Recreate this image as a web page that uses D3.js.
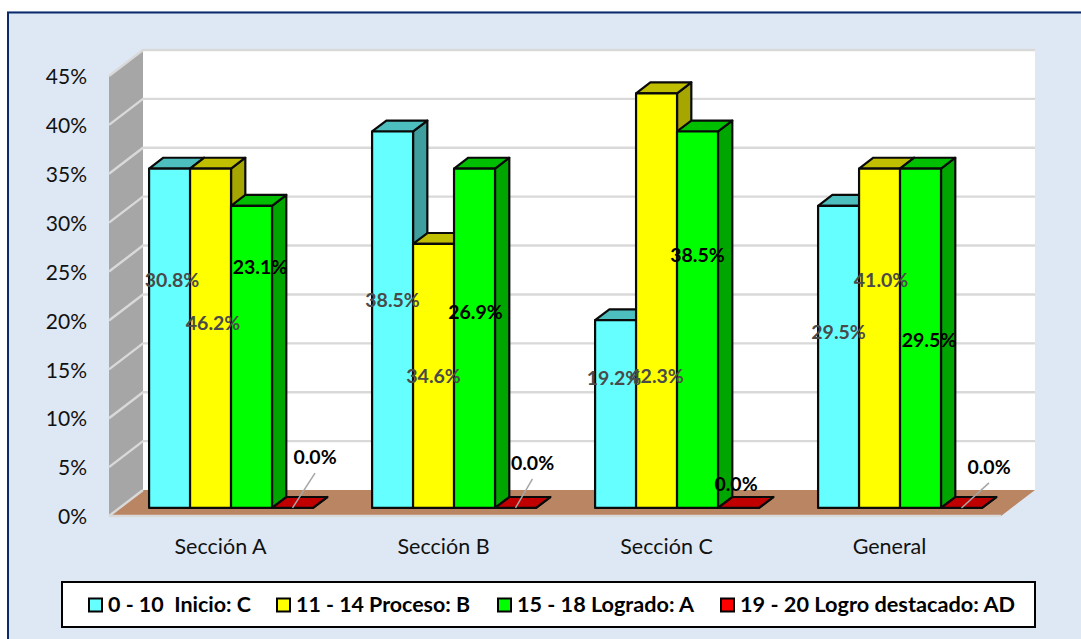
<!DOCTYPE html>
<html>
<head>
<meta charset="utf-8">
<script src="https://cdn.jsdelivr.net/npm/d3@7"></script>
<style>
  html, body { margin: 0; padding: 0; background: #fff; }
  svg { display: block; }
  text { font-family: Lato, "Open Sans", sans-serif; white-space: pre; }
</style>
</head>
<body>
<div id="chart"></div>
<script>
// chart values
var categories = ['Sección A', 'Sección B', 'Sección C', 'General'];
var seriesNames = ['0 - 10  Inicio: C', '11 - 14 Proceso: B', '15 - 18 Logrado: A', '19 - 20 Logro destacado: AD'];
var yTicks = [0, 5, 10, 15, 20, 25, 30, 35, 40, 45];

// bar heights do not match the printed labels in the original, so both are kept
var inicio = [34.7, 38.5, 19.2, 30.9];
var proceso = [34.7, 27.0, 42.4, 34.7];
var logrado = [30.9, 34.7, 38.5, 34.7];
var destacado = [0, 0, 0, 0];

var inicioLabels = ['30.8%', '38.5%', '19.2%', '29.5%'];
var procesoLabels = ['46.2%', '34.6%', '42.3%', '41.0%'];
var logradoLabels = ['23.1%', '26.9%', '38.5%', '29.5%'];
var destacadoLabels = ['0.0%', '0.0%', '0.0%', '0.0%'];

// where the hand-placed labels sit: height in axis units, sideways shift from the bar centre
var labelLevels = [[23.3, 21.2, 13.3, 18.0], [18.9, 13.5, 13.5, 23.3], [24.6, 20.0, 25.9, 17.2], [5.2, 4.6, 2.45, 4.2]];
var labelShifts = [[2.5, 0, -1.5, 0], [2.5, 0, 0, 1.5], [8.5, 1, 0, 8.5], [22.5, 17, -2.5, 27.5]];

var seriesValues = [inicio, proceso, logrado, destacado];
var seriesLabels = [inicioLabels, procesoLabels, logradoLabels, destacadoLabels];

var faceColors = ['#66FFFF', '#FFFF00', '#00FF00', '#FF0000'];
var topColors = ['#4DBFBF', '#BFBF00', '#00BF00', '#C00000'];
var sideColors = ['#3F9F9F', '#A6A600', '#00A600', '#A00000'];
var labelColors = ['#4a4a4a', '#4a4a4a', '#000', '#000'];

var W = 1081, H = 639;
var svg = d3.select('#chart').append('svg').attr('width', W).attr('height', H);

// panel: only top and left edges of the frame are in the crop
svg.append('rect').attr('x', 7).attr('y', 11).attr('width', W - 7).attr('height', H - 11).attr('fill', '#DEE8F4');
svg.append('path').attr('d', 'M8,' + H + 'V12.5H' + W).attr('fill', 'none').attr('stroke', '#0B2A6B').attr('stroke-width', 2);

// 3d frame
var depthX = 34, depthY = 26;
var x0 = 109, x1 = 1001;
var y = d3.scaleLinear().domain([0, 45]).range([516, 76]);
var band = d3.scaleBand().domain(categories).range([x0, x1]).paddingInner(0.265).paddingOuter(0.1325);
var inner = d3.scaleBand().domain(d3.range(seriesValues.length)).range([0, band.bandwidth()]);

function poly(pts) { return 'M' + pts.map(function (p) { return p.join(','); }).join('L') + 'Z'; }

// back wall
svg.append('rect').attr('x', x0 + depthX).attr('y', y(45) - depthY)
  .attr('width', x1 - x0).attr('height', y(0) - y(45)).attr('fill', '#fff');
// left wall
svg.append('path').attr('fill', '#A6A6A6')
  .attr('d', poly([[x0, y(0)], [x0 + depthX, y(0) - depthY], [x0 + depthX, y(45) - depthY], [x0, y(45)]]));
// floor
svg.append('path').attr('fill', '#B98563')
  .attr('d', poly([[x0, y(0)], [x0 + depthX, y(0) - depthY], [x1 + depthX, y(0) - depthY], [x1, y(0)]]));

var grid = svg.append('g').attr('fill', 'none').attr('stroke', '#D9D9D9').attr('stroke-width', 2.4);
yTicks.forEach(function (t) {
  var pts = [[x0, y(t)], [x0 + depthX, y(t) - depthY]];
  if (t > 0) pts.push([x1 + depthX, y(t) - depthY]);
  grid.append('path').attr('d', 'M' + pts.map(function (p) { return p.join(','); }).join('L'));
});
grid.append('path').attr('d', 'M' + x0 + ',' + y(0) + 'H' + x1);

// bars, left to right so each front covers the side of the previous one
var frontD = 0.31, backD = 0.73;
var fx = depthX * frontD, fy = depthY * frontD;
var bx = depthX * (backD - frontD), by = depthY * (backD - frontD);

categories.forEach(function (cat, c) {
  seriesValues.forEach(function (vals, s) {
    var l = band(cat) + inner(s) + fx, r = l + inner.bandwidth();
    var base = y(0) - fy, top = y(vals[c]) - fy;
    var g = svg.append('g').attr('stroke', '#0a0a0a').attr('stroke-width', 2.2).attr('stroke-linejoin', 'round');
    g.append('path').attr('fill', sideColors[s]).attr('d', poly([[r, base], [r + bx, base - by], [r + bx, top - by], [r, top]]));
    g.append('path').attr('fill', topColors[s]).attr('d', poly([[l, top], [l + bx, top - by], [r + bx, top - by], [r, top]]));
    if (vals[c] > 0) g.append('rect').attr('x', l).attr('y', top).attr('width', r - l).attr('height', base - top).attr('fill', faceColors[s]);
  });
});

// axes
var yAxis = svg.append('g').attr('transform', 'translate(' + x0 + ',1)')
  .call(d3.axisLeft(y).tickValues(yTicks).tickSize(0).tickPadding(22).tickFormat(function (d) { return d + '%'; }));
yAxis.select('.domain').remove();
yAxis.selectAll('text').style('font-size', '21px').style('font-family', 'Lato').attr('fill', '#111');

var xAxis = svg.append('g').attr('transform', 'translate(0,' + y(0) + ')')
  .call(d3.axisBottom(band).tickSize(0).tickPadding(23));
xAxis.select('.domain').remove();
xAxis.selectAll('text').style('font-size', '21.5px').style('font-family', 'Lato').attr('fill', '#111');

// value labels and their leader lines
var labels = svg.append('g').attr('text-anchor', 'middle').style('font-size', '19.5px').style('font-weight', 700);
seriesLabels.forEach(function (texts, s) {
  texts.forEach(function (txt, c) {
    var cx = band(categories[c]) + inner(s) + inner.bandwidth() / 2 + fx;
    var tx = cx + labelShifts[s][c];
    var ty = y(labelLevels[s][c]) - fy;
    if (seriesValues[s][c] === 0 && labelLevels[s][c] > 3) {
      svg.append('line').attr('x1', cx).attr('y1', y(0) - fy).attr('x2', tx).attr('y2', ty + 16)
        .attr('stroke', '#A6A6A6').attr('stroke-width', 1.5);
    }
    labels.append('text').attr('x', tx).attr('y', ty).attr('dy', '0.35em').attr('fill', labelColors[s]).text(txt);
  });
});
labels.raise();

// legend
var legend = svg.append('g');
legend.append('rect').attr('x', 62).attr('y', 582).attr('width', 973).attr('height', 45)
  .attr('fill', '#fff').attr('stroke', '#000').attr('stroke-width', 2);
var legendX = [88, 276, 497, 720];
var legendWidths = [143, 174, 177, 275];
seriesNames.forEach(function (name, s) {
  legend.append('rect').attr('x', legendX[s] + 1).attr('y', 598.5).attr('width', 13).attr('height', 13)
    .attr('fill', faceColors[s]).attr('stroke', '#000').attr('stroke-width', 2);
  legend.append('text').attr('x', legendX[s] + 20).attr('y', 605).attr('dy', '0.35em')
    .attr('textLength', legendWidths[s]).attr('lengthAdjust', 'spacingAndGlyphs')
    .style('font-size', '20px').style('font-weight', 700).attr('fill', '#000').text(name);
});
</script>
</body>
</html>
